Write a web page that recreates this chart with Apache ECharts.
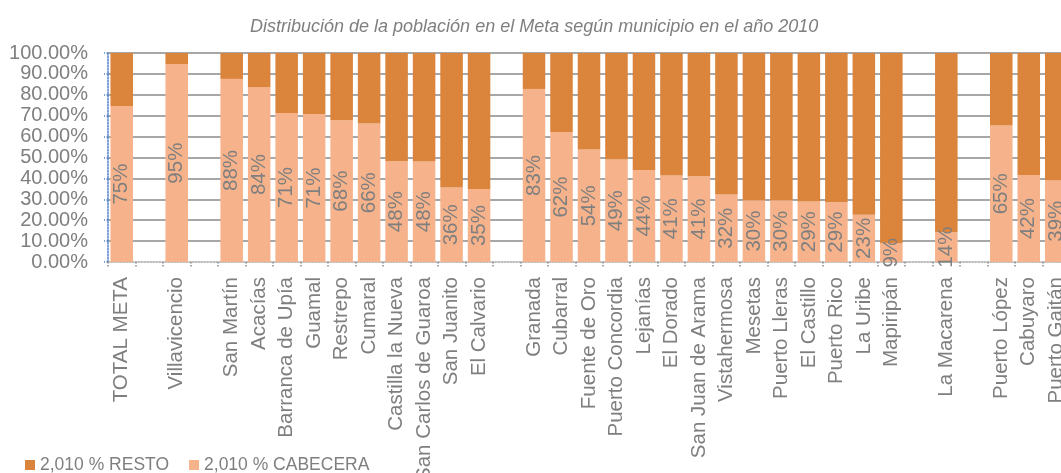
<!DOCTYPE html>
<html>
<head>
<meta charset="utf-8">
<script src="https://cdn.jsdelivr.net/npm/echarts@6/dist/echarts.min.js"></script>
<style>
  html, body { margin: 0; padding: 0; background: #fff; overflow: hidden; }
  /* el gráfico original está recortado a la derecha */
  #chartID { width: 1071px; height: 473px; }
</style>
</head>
<body>
<div id="chartID"></div>
<script>
// municipios (los huecos son categorías vacías del gráfico original)
const municipios = [
  'TOTAL META', ' ', 'Villavicencio', '  ', 'San Martín', 'Acacías', 'Barranca de Upía',
  'Guamal', 'Restrepo', 'Cumaral', 'Castilla la Nueva', 'San Carlos de Guaroa',
  'San Juanito', 'El Calvario', '   ', 'Granada', 'Cubarral', 'Fuente de Oro',
  'Puerto Concordia', 'Lejanías', 'El Dorado', 'San Juan de Arama', 'Vistahermosa',
  'Mesetas', 'Puerto Lleras', 'El Castillo', 'Puerto Rico', 'La Uribe', 'Mapiripán',
  '    ', 'La Macarena', '     ', 'Puerto López', 'Cabuyaro', 'Puerto Gaitán',
]

// % población en cabecera, 2010
const cabecera = [
  74.6, null, 94.6, null, 87.6, 83.7, 71.3,
  70.8, 67.8, 66.3, 48.2, 48.1,
  35.6, 34.9, null, 82.8, 62.1, 53.8,
  49.1, 44.0, 41.4, 41.0, 32.3,
  29.6, 29.5, 29.0, 28.6, 22.6, 8.8,
  null, 14.2, null, 65.3, 41.6, 39.0,
]

// % población en resto, 2010
const resto = [
  25.4, null, 5.4, null, 12.4, 16.3, 28.7,
  29.2, 32.2, 33.7, 51.8, 51.9,
  64.4, 65.1, null, 17.2, 37.9, 46.2,
  50.9, 56.0, 58.6, 59.0, 67.7,
  70.4, 70.5, 71.0, 71.4, 77.4, 91.2,
  null, 85.8, null, 34.7, 58.4, 61.0,
]

const gray = '#7f7f7f'
const font = 'Liberation Sans, Arial, sans-serif'

const elem = document.getElementById('chartID')
const chartObj = echarts.init(elem, undefined, { renderer: 'canvas' })

const option = {
  backgroundColor: '#fff',
  animation: false,
  title: {
    text: 'Distribución de la población en el Meta según municipio en el año 2010',
    left: 245,
    top: 13,
    textStyle: {
      color: gray,
      fontStyle: 'italic',
      fontWeight: 'normal',
      fontSize: 18,
      fontFamily: font,
    },
  },
  legend: {
    left: 20,
    top: 451,
    icon: 'rect',
    itemWidth: 10,
    itemHeight: 10,
    itemGap: 20,
    data: ['2,010 % RESTO', '2,010 % CABECERA'],
    textStyle: { color: gray, fontSize: 17.5, fontFamily: font },
  },
  grid: {
    left: 108,
    top: 53,
    width: 962,
    height: 209,
    outerBoundsMode: 'none',
  },
  xAxis: {
    type: 'category',
    data: municipios,
    axisLine: { lineStyle: { color: '#a6a6a6', type: 'dotted', width: 1.5 } },
    axisTick: { show: true, length: 5, lineStyle: { color: '#8a8a8a', type: 'dotted', width: 1.5 } },
    axisLabel: {
      rotate: 90,
      interval: 0,
      margin: 15,
      color: gray,
      fontSize: 20.5,
      fontFamily: font,
    },
  },
  yAxis: {
    type: 'value',
    min: 0,
    max: 100,
    interval: 10,
    axisLine: { show: true, lineStyle: { color: '#4f81c9', type: 'dotted', width: 1.5 } },
    axisTick: { show: true, length: 4, lineStyle: { color: '#4f81c9', type: 'dotted', width: 1.5 } },
    splitLine: { show: true, showMinLine: false, lineStyle: { color: '#8a8a8a', width: 1.5 } },
    axisLabel: {
      margin: 20,
      color: gray,
      fontSize: 20,
      fontFamily: font,
      formatter: v => v.toFixed(2) + '%',
    },
  },
  series: [
    {
      name: '2,010 % CABECERA',
      type: 'bar',
      stack: 'total',
      barCategoryGap: '18%',
      itemStyle: { color: '#f6b38b' },
      label: {
        show: true,
        position: 'inside',
        rotate: 90,
        color: gray,
        fontSize: 20.5,
        fontFamily: font,
        formatter: p => Math.round(p.value) + '%',
      },
      data: cabecera,
    },
    {
      name: '2,010 % RESTO',
      type: 'bar',
      stack: 'total',
      barCategoryGap: '18%',
      itemStyle: { color: '#da843c' },
      data: resto,
    },
  ],
}

chartObj.setOption(option)
</script>
</body>
</html>
